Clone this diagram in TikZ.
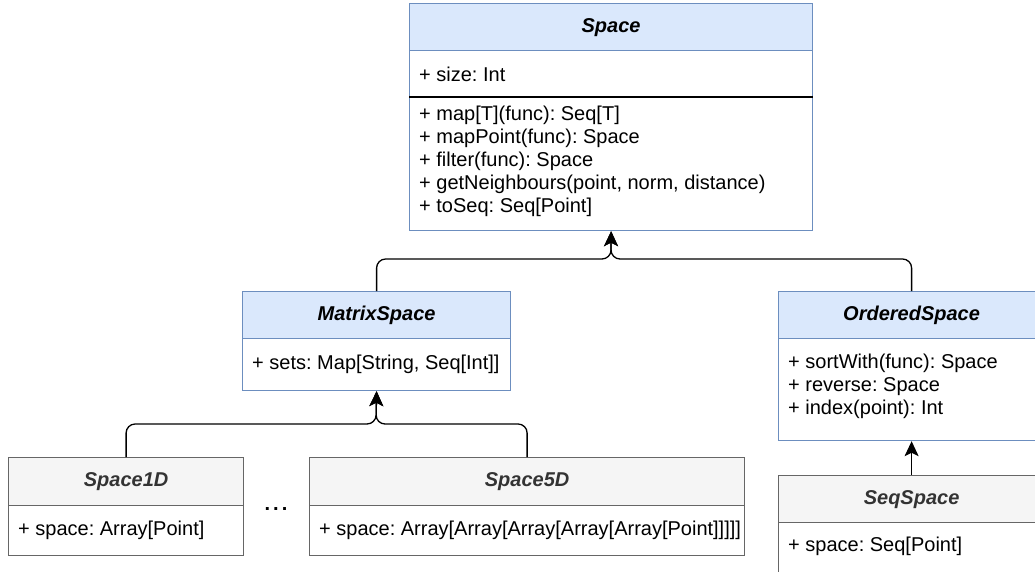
\documentclass[tikz,border=0pt]{standalone}
\usepackage{fontspec}
\setmainfont{Liberation Sans}
\usetikzlibrary{arrows.meta}
\definecolor{umlblue}{HTML}{DAE8FC}
\definecolor{umlblueline}{HTML}{6C8EBF}
\definecolor{umlgrey}{HTML}{F5F5F5}
\definecolor{umlgreyline}{HTML}{666666}
\definecolor{umltitle}{HTML}{333333}
\frenchspacing
\newcommand{\umlfont}{\fontsize{20bp}{23bp}\selectfont}
\tikzset{umlbox/.style 2 args={rectangle,anchor=north west,inner sep=0pt,line width=1.2bp,minimum width=#1bp,minimum height=#2bp},
         bluehd/.style={draw=umlblueline,fill=umlblue,font=\umlfont\bfseries\itshape},
         greyhd/.style={draw=umlgreyline,fill=umlgrey,text=umltitle,font=\umlfont\bfseries\itshape},
         bluebd/.style={draw=umlblueline,fill=white},
         greybd/.style={draw=umlgreyline,fill=white},
         members/.style={anchor=west,align=left,inner sep=0pt,font=\umlfont},
         inherit/.style={line width=1.3bp,rounded corners=9bp,-{Stealth[length=15bp,width=14bp,inset=3.5bp]}}}

\begin{document}
\begin{tikzpicture}[x=1bp,y=-1bp]
    \useasboundingbox (0,0) rectangle (1035,572);
    \clip (0,0) rectangle (1035,572);
    % Space
    \node[umlbox={403}{47},bluehd] (sph) at (409,3) {Space};
    \node[umlbox={403}{47},bluebd] (spa) at (409,50) {};
    \node[umlbox={403}{133},bluebd] (spm) at (409,97) {};
    \draw[line width=1.6bp] (spm.north west) -- (spm.north east);
    \node[members] (spat) at ([xshift=10bp]spa.west) {+ size: Int};
    \node[members] (spmt) at ([xshift=10bp,yshift=3bp]spm.west) {+ map[T](func): Seq[T]\\+ mapPoint(func): Space\\+ filter(func): Space\\+ getNeighbours(point, norm, distance)\\+ toSeq: Seq[Point]};
    % MatrixSpace, OrderedSpace
    \node[umlbox={268}{47},bluehd] (mh) at (242,291) {MatrixSpace};
    \node[umlbox={268}{52},bluebd] (mb) at (242,338) {};
    \node[members] (mt) at ([xshift=10bp]mb.west) {+ sets: Map[String, Seq[Int]]};
    \node[umlbox={266}{47},bluehd] (oh) at (778,291) {OrderedSpace};
    \node[umlbox={266}{102},bluebd] (ob) at (778,338) {};
    \node[members] (ot) at ([xshift=10bp,yshift=3bp]ob.west) {+ sortWith(func): Space\\+ reverse: Space\\+ index(point): Int};
    % concrete spaces
    \node[umlbox={235}{48},greyhd] (s1h) at (8,457) {Space1D};
    \node[umlbox={235}{50},greybd] (s1b) at (8,505) {};
    \node[members] (s1t) at ([xshift=10bp]s1b.west) {+ space: Array[Point]};
    \node[font=\umlfont\bfseries] (dots) at (276,509) {.\kern3bp.\kern3bp.};
    \node[umlbox={435}{48},greyhd] (s5h) at (309,457) {Space5D};
    \node[umlbox={435}{50},greybd] (s5b) at (309,505) {};
    \node[members] (s5t) at ([xshift=10bp]s5b.west) {+ space: Array[Array[Array[Array[Array[Point]]]]]};
    \node[umlbox={266}{47},greyhd] (sqh) at (778,475) {SeqSpace};
    \node[umlbox={266}{60},greybd] (sqb) at (778,522) {};
    \node[members] (sqt) at (788,546) {+ space: Seq[Point]};
    % inheritance
    \coordinate (j1) at (611,259);
    \coordinate (j2) at (376,424);
    \draw[inherit] (mh.north) |- (j1) -- (spm.south);
    \draw[inherit] (oh.north) |- (j1) -- (spm.south);
    \draw[inherit] (s1h.north) |- (j2) -- (mb.south);
    \draw[inherit] (s5h.north) |- (j2) -- (mb.south);
    \draw[inherit] (sqh.north) -- (ob.south);
\end{tikzpicture}
\end{document}
